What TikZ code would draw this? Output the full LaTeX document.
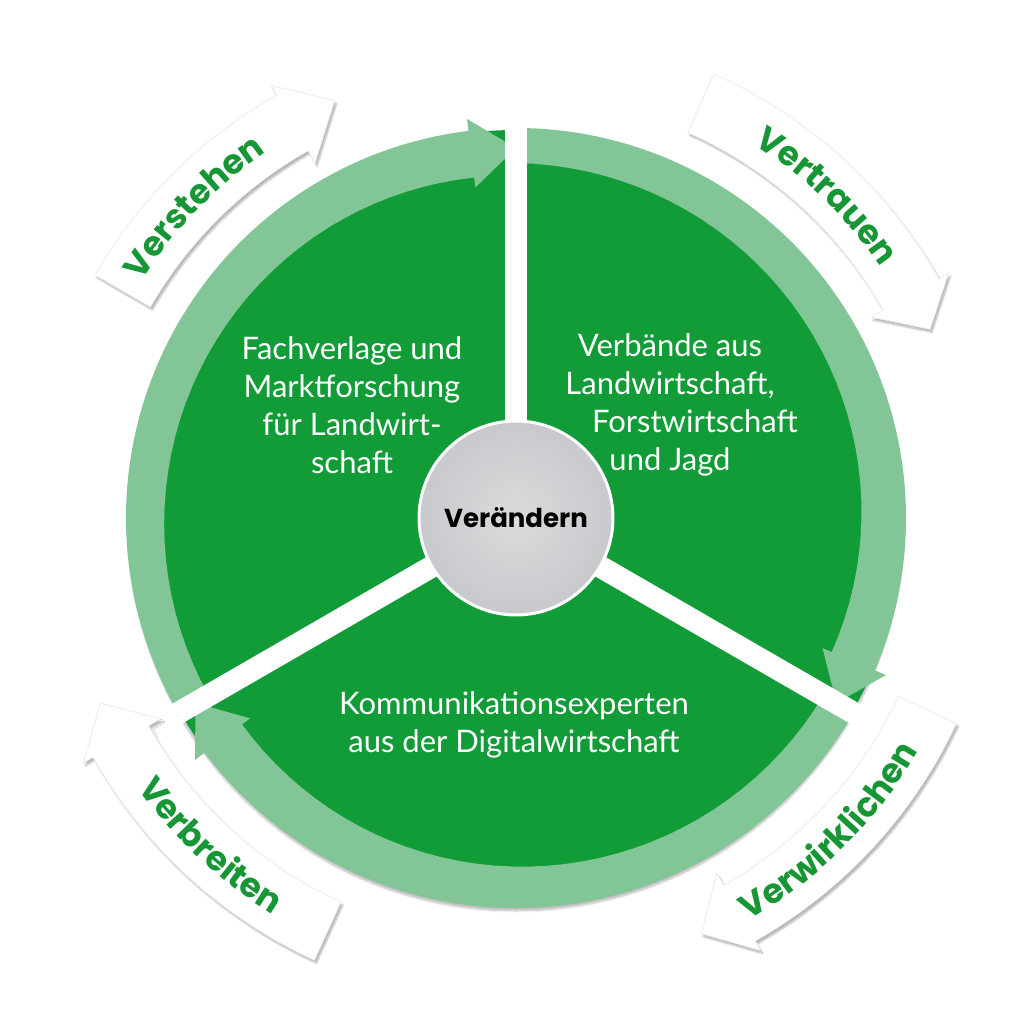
\documentclass[tikz,border=0pt]{standalone}
\usepackage{fontspec}
\usepackage{xcolor}
\usepackage{tikz}
\usetikzlibrary{decorations.text,shadows.blur}
\newfontfamily\sectorfont{Lato}
\newfontfamily\labelfont{Poppins}
\newcommand\arrowlabelfont{\labelfont\bfseries\fontsize{34}{34}\selectfont}
\definecolor{sectorgreen}{RGB}{18,156,56}
\definecolor{bandgreen}{RGB}{130,197,150}
\definecolor{labelgreen}{RGB}{22,150,52}
\definecolor{hubgray}{RGB}{218,219,221}
\definecolor{hubedge}{RGB}{200,201,204}

\begin{document}
\begin{tikzpicture}[x=1pt,y=1pt,line join=round,
  sectortext/.style={text=white,align=center,font=\sectorfont\fontsize{31}{38}\selectfont},
  whitearrow/.style={fill=white,draw=black!8,line width=0.8pt,
    blur shadow={shadow blur steps=8,shadow xshift=2pt,shadow yshift=-3pt,shadow opacity=30}},
  arrowlabel/.style={decorate,decoration={text along path,text align=center,
    text color=labelgreen,text={|\arrowlabelfont|#1}}},
  gap/.style={white,line width=22pt}]
  \useasboundingbox (-516,-506) rectangle (508,518);

  % disc
  \fill[sectorgreen,blur shadow={shadow blur steps=8,shadow xshift=0pt,shadow yshift=-5pt,shadow opacity=25}] (0,0) circle (388);

  % light bands with heads
  \fill[bandgreen] (210:390) arc[start angle=210,end angle=97,radius=390] -- (97:402) -- (90:370) -- (97:333)
    -- plot[domain=97:210,samples=40] (\x:{343+12*(\x-97)/113}) -- cycle;
  \fill[bandgreen] (90:390) arc[start angle=90,end angle=-23,radius=390] -- (-23:402) -- (-30:370) -- (-23:333)
    -- plot[domain=-23:90,samples=40] (\x:{343+12*(\x+23)/113}) -- cycle;
  \fill[bandgreen] (-30:390) arc[start angle=-30,end angle=-143,radius=390] -- (-143:402) -- (-150:370) -- (-143:333)
    -- plot[domain=-143:-30,samples=40] (\x:{343+12*(\x+143)/113}) -- cycle;

  % gaps
  \draw[gap] (0,0) -- (90:420);
  \draw[gap] (0,0) -- (210:420);
  \draw[gap] (0,0) -- (-30:420);

  % hub
  \node[circle,minimum size=194pt,inner sep=0pt,draw=white,line width=3pt,
    inner color=hubgray,outer color=hubedge,
    font=\labelfont\bfseries\fontsize{26}{26}\selectfont] (hub) at (0,0) {Verändern};

  % sector texts
  \node[sectortext] (fach) at (-164,113) {Fachverlage und\\Marktforschung\\für Landwirt-\\schaft};
  \node[sectortext] (verband) at (154,113) {Verbände aus\\Landwirtschaft,\\\hspace*{50pt}Forstwirtschaft\\und Jagd};
  \node[sectortext] (komm) at (-2,-207) {Kommunikationsexperten\\aus der Digitalwirtschaft};

  % white arrows
  \path[whitearrow] (150:486) arc[start angle=150,end angle=119.5,radius=486] -- (119.5:497) -- (113.5:455)
    -- (119.5:408) -- (119.5:422) arc[start angle=119.5,end angle=150,radius=422] -- cycle;
  \path[whitearrow] (66:486) arc[start angle=66,end angle=29.5,radius=486] -- (29.5:497) -- (24.5:455)
    -- (29.5:408) -- (29.5:422) arc[start angle=29.5,end angle=66,radius=422] -- cycle;
  \path[whitearrow] (-25:486) arc[start angle=-25,end angle=-60.5,radius=486] -- (-60.5:497) -- (-66:455)
    -- (-60.5:408) -- (-60.5:422) arc[start angle=-60.5,end angle=-25,radius=422] -- cycle;
  \path[whitearrow] (245.5:486) arc[start angle=245.5,end angle=209.5,radius=486] -- (209.5:497) -- (204:455)
    -- (209.5:408) -- (209.5:422) arc[start angle=209.5,end angle=245.5,radius=422] -- cycle;

  % arrow labels
  \path[arrowlabel=Verstehen] (150:443) arc[start angle=150,end angle=122,radius=443];
  \path[arrowlabel=Vertrauen] (64:443) arc[start angle=64,end angle=28,radius=443];
  \path[arrowlabel=Verwirklichen] (-63:465) arc[start angle=-63,end angle=-27,radius=465];
  \path[arrowlabel=Verbreiten] (209:465) arc[start angle=209,end angle=245,radius=465];
\end{tikzpicture}
\end{document}
